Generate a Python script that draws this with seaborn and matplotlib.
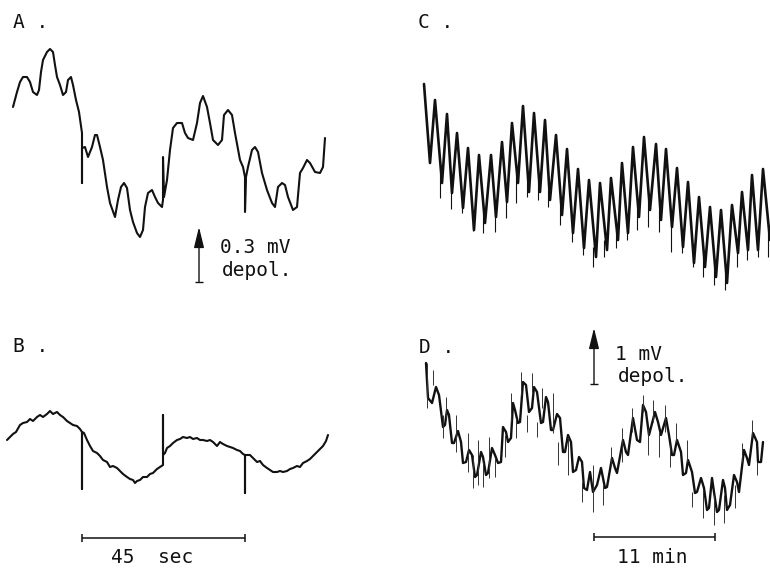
import matplotlib
matplotlib.use("Agg")
import matplotlib.pyplot as plt
import seaborn as sns
import pandas as pd

sns.set_style("white")
plt.rcParams['font.family'] = ['DejaVu Sans Mono', 'DejaVu Sans']

# ---------------- data (trace samples; y grows downward) -------------
A_t = [13, 17, 20, 23, 27, 30, 33, 37, 39, 41, 43, 47, 50, 53, 55, 57, 60, 63, 66, 68,
       71, 73, 76, 79, 82, 82, 82, 82, 85, 88, 92, 95, 97, 100, 103, 107, 110, 115, 118, 121,
       124, 127, 130, 133, 137, 140, 143, 145, 148, 152, 155, 158, 162, 163, 163, 164, 167, 170, 173, 177,
       182, 185, 188, 193, 197, 200, 203, 207, 210, 213, 218, 222, 224, 228, 232, 235, 240, 243, 245, 245,
       246, 248, 252, 255, 258, 262, 267, 272, 275, 278, 282, 285, 288, 293, 297, 300, 303, 307, 310, 315,
       320, 323, 325]
A_y = [107, 92, 82, 77, 77, 82, 92, 95, 90, 72, 60, 52, 49, 52, 65, 77, 85, 95, 92, 80,
       77, 85, 100, 112, 133, 147, 183, 148, 147, 157, 147, 135, 135, 147, 160, 187, 203, 217, 200, 187,
       183, 188, 210, 222, 233, 237, 230, 207, 193, 190, 197, 203, 207, 200, 157, 197, 180, 150, 128, 123,
       123, 133, 138, 140, 123, 103, 96, 107, 123, 140, 145, 140, 115, 110, 115, 133, 160, 167, 177, 212,
       177, 167, 150, 147, 152, 173, 190, 203, 207, 187, 183, 185, 197, 210, 207, 173, 168, 160, 163, 172,
       173, 167, 138]

B_t = [7, 10, 13, 16, 20, 23, 27, 30, 33, 37, 40, 43, 47, 50, 53, 57, 60, 63, 67, 70,
       73, 77, 80, 82, 82, 82, 84, 87, 90, 93, 97, 100, 103, 107, 110, 113, 117, 120, 123, 127,
       130, 133, 135, 137, 140, 143, 147, 150, 153, 157, 160, 163, 163, 163, 165, 167, 170, 173, 177, 180,
       183, 187, 190, 193, 197, 200, 203, 207, 210, 213, 217, 220, 223, 227, 230, 233, 237, 240, 243, 245,
       245, 245, 247, 250, 253, 257, 260, 263, 267, 270, 273, 277, 280, 283, 287, 290, 293, 297, 300, 303,
       307, 310, 313, 317, 320, 323, 326, 328]
B_y = [140, 137, 134, 132, 125, 123, 122, 119, 121, 117, 115, 117, 114, 111, 114, 112, 115, 117, 121, 123,
       125, 126, 129, 132, 189, 132, 133, 140, 146, 151, 153, 156, 160, 162, 167, 166, 168, 171, 174, 177,
       179, 180, 183, 181, 180, 177, 177, 174, 173, 169, 167, 165, 115, 155, 153, 148, 146, 143, 140, 139,
       137, 138, 137, 139, 138, 140, 140, 141, 140, 142, 146, 142, 144, 146, 147, 148, 150, 151, 154, 155,
       193, 155, 155, 155, 158, 162, 161, 165, 168, 170, 172, 172, 171, 172, 171, 169, 168, 166, 167, 163,
       161, 159, 156, 152, 149, 146, 141, 135]

C_t = [24, 30, 35, 42, 47, 52, 57, 63, 68, 74, 79, 85, 91, 96, 102, 107, 112, 118, 123, 129,
       134, 140, 145, 150, 156, 162, 167, 173, 178, 184, 189, 196, 200, 207, 211, 218, 222, 228, 233, 239,
       244, 250, 256, 261, 266, 272, 277, 283, 288, 294, 299, 305, 310, 316, 321, 327, 332, 338, 342, 348,
       352, 358, 363, 370]
C_y = [84, 163, 100, 183, 114, 193, 133, 208, 148, 230, 155, 223, 155, 217, 142, 202, 123, 183, 106, 192,
       113, 192, 120, 200, 135, 215, 149, 233, 169, 248, 180, 257, 183, 250, 178, 240, 163, 233, 147, 217,
       137, 210, 144, 220, 149, 227, 168, 247, 182, 263, 197, 267, 207, 277, 210, 283, 205, 253, 192, 250,
       175, 250, 169, 240]
C_spike_t = [40, 51, 62, 73, 83, 95, 106, 116, 127, 138, 148, 160, 172, 183, 193, 204, 216, 227, 237, 248,
             259, 271, 282, 293, 303, 314, 325, 337, 347, 358, 368]
C_spike_top = [173, 183, 198, 220, 213, 207, 192, 173, 182, 182, 190, 205, 223, 238, 247, 240, 230, 223, 207, 200,
               210, 217, 237, 253, 257, 267, 273, 243, 240, 240, 230]
C_spike_bot = [198, 209, 213, 231, 233, 232, 218, 203, 197, 200, 207, 225, 242, 255, 267, 257, 248, 240, 230, 227,
               232, 252, 253, 267, 277, 285, 290, 267, 260, 257, 257]

D_t = [26, 28, 32, 36, 39, 43, 45, 47, 49, 52, 54, 58, 61, 63, 66, 69, 72, 75, 77, 81,
       83, 86, 88, 92, 95, 98, 101, 103, 106, 108, 111, 113, 115, 118, 120, 123, 126, 129, 132, 134,
       137, 141, 143, 146, 148, 151, 153, 157, 160, 163, 165, 168, 171, 173, 176, 179, 182, 184, 187, 190,
       193, 197, 201, 205, 207, 212, 215, 217, 223, 226, 228, 233, 237, 240, 243, 246, 249, 255, 258, 261,
       266, 269, 272, 274, 277, 281, 283, 286, 288, 292, 295, 297, 301, 304, 307, 309, 312, 314, 317, 319,
       323, 325, 327, 330, 334, 337, 339, 344, 347, 349, 353, 357, 358, 361, 363]
D_y = [63, 98, 103, 87, 95, 127, 125, 110, 115, 143, 143, 131, 142, 163, 162, 150, 155, 177, 175, 152,
       157, 175, 173, 148, 155, 163, 162, 127, 132, 142, 138, 103, 110, 123, 122, 82, 85, 112, 108, 87,
       92, 123, 122, 97, 102, 130, 130, 114, 118, 152, 152, 135, 142, 172, 170, 157, 162, 188, 190, 172,
       192, 185, 168, 188, 187, 158, 168, 173, 140, 152, 155, 118, 140, 142, 105, 112, 135, 112, 122, 135,
       118, 135, 155, 155, 140, 152, 175, 173, 160, 172, 193, 192, 178, 188, 210, 208, 178, 192, 212, 210,
       180, 188, 210, 205, 175, 182, 192, 150, 158, 165, 133, 142, 162, 162, 142]
D_spike_t = [27, 33, 43, 46, 56, 68, 73, 78, 83, 89, 95, 105, 111, 116, 121, 127, 132, 137, 142, 153,
             158, 168, 182, 193, 203, 211, 222, 232, 243, 248, 253, 259, 265, 270, 276, 287, 292, 303, 314, 324,
             335, 342, 352, 357]
D_spike_top = [63, 70, 115, 97, 115, 133, 155, 140, 162, 137, 158, 135, 93, 118, 72, 115, 73, 122, 88, 93,
               142, 137, 182, 165, 185, 147, 128, 108, 95, 128, 100, 132, 105, 145, 123, 140, 192, 190, 195, 195,
               185, 143, 120, 162]
D_spike_bot = [108, 85, 138, 118, 152, 172, 188, 185, 187, 178, 177, 157, 122, 138, 95, 132, 92, 137, 108, 133,
               165, 175, 202, 212, 205, 165, 162, 132, 112, 155, 122, 157, 132, 167, 142, 162, 207, 218, 225, 223,
               208, 162, 137, 175]

panel_labels = ["A .", "B .", "C .", "D ."]
scale_A_text = ["0.3 mV", "depol."]
scale_D_text = ["1 mV", "depol."]
time_B_text = "45  sec"
time_D_text = "11 min"

# ---------------- figure ----------------
W, H = 770, 571
fig = plt.figure(figsize=(W / 100, H / 100), dpi=100)
fig.patch.set_facecolor("white")


def panel(x0, y0, w, h):
    ax = fig.add_axes([x0 / W, 1 - (y0 + h) / H, w / W, h / H])
    ax.set_xlim(0, w)
    ax.set_ylim(h, 0)
    ax.axis("off")
    return ax


axA = panel(0, 0, 400, 300)
axB = panel(0, 300, 400, 271)
axC = panel(400, 0, 370, 300)
axD = panel(400, 300, 370, 271)

K = "#111111"
FS = 14


def trace(ax, t, y, lw):
    df = pd.DataFrame({"t": t, "y": y})
    sns.lineplot(data=df, x="t", y="y", ax=ax, sort=False, estimator=None,
                 color=K, lw=lw, legend=False)
    ax.set_xlabel("")
    ax.set_ylabel("")


trace(axA, A_t, A_y, 1.5)
trace(axB, B_t, B_y, 1.5)
trace(axC, C_t, C_y, 1.9)
trace(axD, D_t, D_y, 1.7)

axC.vlines(C_spike_t, C_spike_top, C_spike_bot, color=K, lw=0.8)
axD.vlines(D_spike_t, D_spike_top, D_spike_bot, color="#333333", lw=0.7)

# panel letters
axA.text(13, 28, panel_labels[0], fontsize=FS, color=K, va="baseline", ha="left")
axB.text(13, 52, panel_labels[1], fontsize=FS, color=K, va="baseline", ha="left")
axC.text(18, 28, panel_labels[2], fontsize=FS, color=K, va="baseline", ha="left")
axD.text(19, 53, panel_labels[3], fontsize=FS, color=K, va="baseline", ha="left")

arrow_kw = dict(arrowstyle="-|>,head_length=0.9,head_width=0.22", color=K, lw=1.0,
                mutation_scale=14, shrinkA=0, shrinkB=0)

# voltage scale, panel A
axA.annotate("", xy=(199, 227), xytext=(199, 282), arrowprops=arrow_kw)
axA.hlines(282, 195, 203, color=K, lw=1.0)
axA.text(220, 253, scale_A_text[0], fontsize=FS, color=K, va="baseline", ha="left")
axA.text(222, 276, scale_A_text[1], fontsize=FS, color=K, va="baseline", ha="left")

# voltage scale, panel D
axD.annotate("", xy=(194, 28), xytext=(194, 84), arrowprops=arrow_kw)
axD.hlines(84, 190, 198, color=K, lw=1.0)
axD.text(215, 60, scale_D_text[0], fontsize=FS, color=K, va="baseline", ha="left")
axD.text(218, 82, scale_D_text[1], fontsize=FS, color=K, va="baseline", ha="left")

# time scales
axB.hlines(238, 82, 245, color=K, lw=1.1)
axB.vlines([82, 245], 234, 242, color=K, lw=1.1)
axB.text(152, 263, time_B_text, fontsize=FS, color=K, va="baseline", ha="center")

axD.hlines(237, 194, 315, color=K, lw=1.1)
axD.vlines([194, 315], 233, 241, color=K, lw=1.1)
axD.text(252, 263, time_D_text, fontsize=FS, color=K, va="baseline", ha="center")

fig.savefig("out.png", dpi=100, facecolor="white")
